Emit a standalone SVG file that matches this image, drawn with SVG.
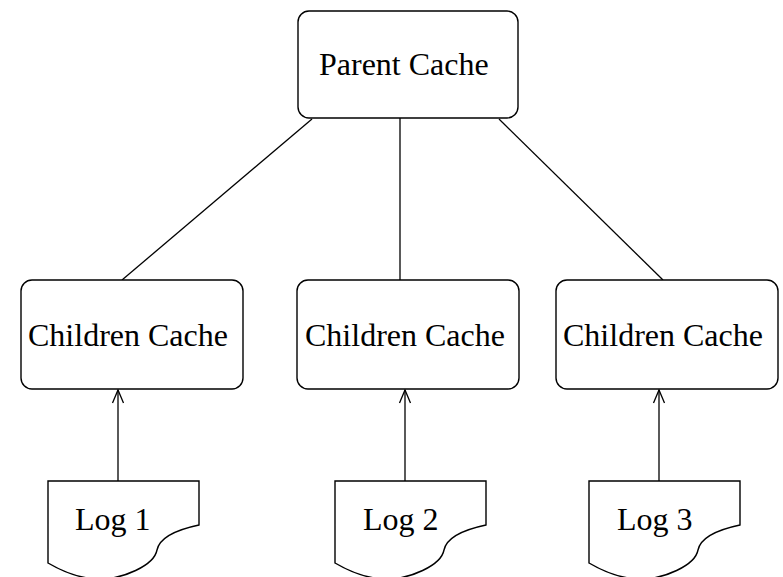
<svg xmlns="http://www.w3.org/2000/svg" width="783" height="577" viewBox="0 0 783 577">
  <style>
    .box { fill: #ffffff; stroke: #000000; stroke-width: 1.4; }
    .edge { fill: none; stroke: #000000; stroke-width: 1.3; }
    .label { font-family: "Liberation Serif", "Times New Roman", serif; font-size: 32px; fill: #000000; }
  </style>
  <defs>
    <marker id="openArrow" markerUnits="userSpaceOnUse" markerWidth="16" markerHeight="16" refX="14" refY="8" orient="auto">
      <path d="M1,2.5 L14,8 L1,13.5" fill="none" stroke="#000000" stroke-width="1.3"/>
    </marker>
  </defs>
  <rect width="783" height="577" fill="#ffffff"/>

  <g id="connectors">
    <line class="edge" x1="312" y1="119" x2="122" y2="280"/>
    <line class="edge" x1="400" y1="118" x2="400" y2="280"/>
    <line class="edge" x1="499" y1="119" x2="663" y2="280"/>
    <line class="edge" x1="118" y1="481" x2="118" y2="390" marker-end="url(#openArrow)"/>
    <line class="edge" x1="405" y1="481" x2="405" y2="390" marker-end="url(#openArrow)"/>
    <line class="edge" x1="659" y1="481" x2="659" y2="390" marker-end="url(#openArrow)"/>
  </g>

  <g id="parent-cache">
    <rect class="box" x="298" y="11" width="220" height="107" rx="11" ry="11"/>
    <text class="label" x="319" y="75">Parent Cache</text>
  </g>

  <g id="children-cache-1">
    <rect class="box" x="21" y="280" width="222" height="109" rx="11" ry="11"/>
    <text class="label" x="28" y="346">Children Cache</text>
  </g>
  <g id="children-cache-2">
    <rect class="box" x="297" y="280" width="222" height="109" rx="11" ry="11"/>
    <text class="label" x="305" y="346">Children Cache</text>
  </g>
  <g id="children-cache-3">
    <rect class="box" x="556" y="280" width="222" height="109" rx="11" ry="11"/>
    <text class="label" x="563" y="346">Children Cache</text>
  </g>

  <g id="log-1">
    <path class="box" d="M48,481 H199 V525 C180,529 160,536 157,550 C154,566 122,579 100,579 C78,579 60,570 48,563 Z"/>
    <text class="label" x="75" y="530">Log 1</text>
  </g>
  <g id="log-2">
    <path class="box" d="M335,481 H486 V525 C467,529 447,536 444,550 C441,566 409,579 387,579 C365,579 347,570 335,563 Z"/>
    <text class="label" x="363" y="530">Log 2</text>
  </g>
  <g id="log-3">
    <path class="box" d="M589,481 H740 V525 C721,529 701,536 698,550 C695,566 663,579 641,579 C619,579 601,570 589,563 Z"/>
    <text class="label" x="617" y="530">Log 3</text>
  </g>
</svg>
